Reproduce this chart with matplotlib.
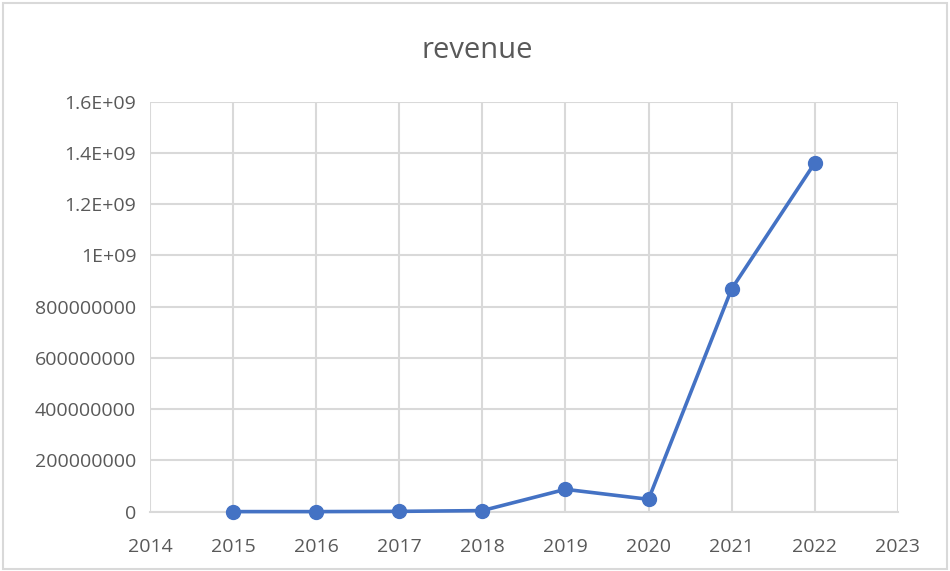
import matplotlib.pyplot as plt
from matplotlib.patches import Rectangle

plt.rcParams['font.family'] = ['Open Sans', 'DejaVu Sans']

# yearly revenue
years = [2015, 2016, 2017, 2018, 2019, 2020, 2021, 2022]
revenue = [0, 0, 1e6, 4e6, 87e6, 48e6, 869e6, 1.36e9]

x_ticks = list(range(2014, 2024))
y_ticks = [0, 2e8, 4e8, 6e8, 8e8, 1e9, 1.2e9, 1.4e9, 1.6e9]
y_labels = ['0', '200000000', '400000000', '600000000', '800000000',
            '1E+09', '1.2E+09', '1.4E+09', '1.6E+09']

text_c = '#595959'
grid_c = '#d9d9d9'
line_c = '#4472c4'

fig = plt.figure(figsize=(9.5, 5.71), dpi=100)
fig.patches.append(Rectangle((0.003, 0.004), 0.994, 0.991, transform=fig.transFigure,
                             fill=False, edgecolor='#d9d9d9', linewidth=1.5))
ax = fig.add_axes([0.158, 0.104, 0.787, 0.718])

ax.plot(years, revenue, color=line_c, linewidth=2.6, marker='o', markersize=10,
        zorder=3, clip_on=False)

ax.set_xlim(2014, 2023)
ax.set_ylim(0, 1.6e9)
ax.set_xticks(x_ticks)
ax.set_xticklabels([str(y) for y in x_ticks])
ax.set_yticks(y_ticks)
ax.set_yticklabels(y_labels)
ax.grid(True, color=grid_c, linewidth=1.5)
ax.set_axisbelow(True)
for s in ['top', 'right', 'left']:
    ax.spines[s].set_visible(False)
ax.spines['bottom'].set_color(grid_c)
ax.spines['bottom'].set_linewidth(1.5)
ax.tick_params(length=0, labelsize=14, colors=text_c)
ax.tick_params(axis='x', pad=19)
ax.tick_params(axis='y', pad=10)

# chart title centred on the whole figure
fig.text(0.502, 0.912, 'revenue', fontsize=21, color=text_c, ha='center', va='center')

fig.savefig('out.png', dpi=100)
